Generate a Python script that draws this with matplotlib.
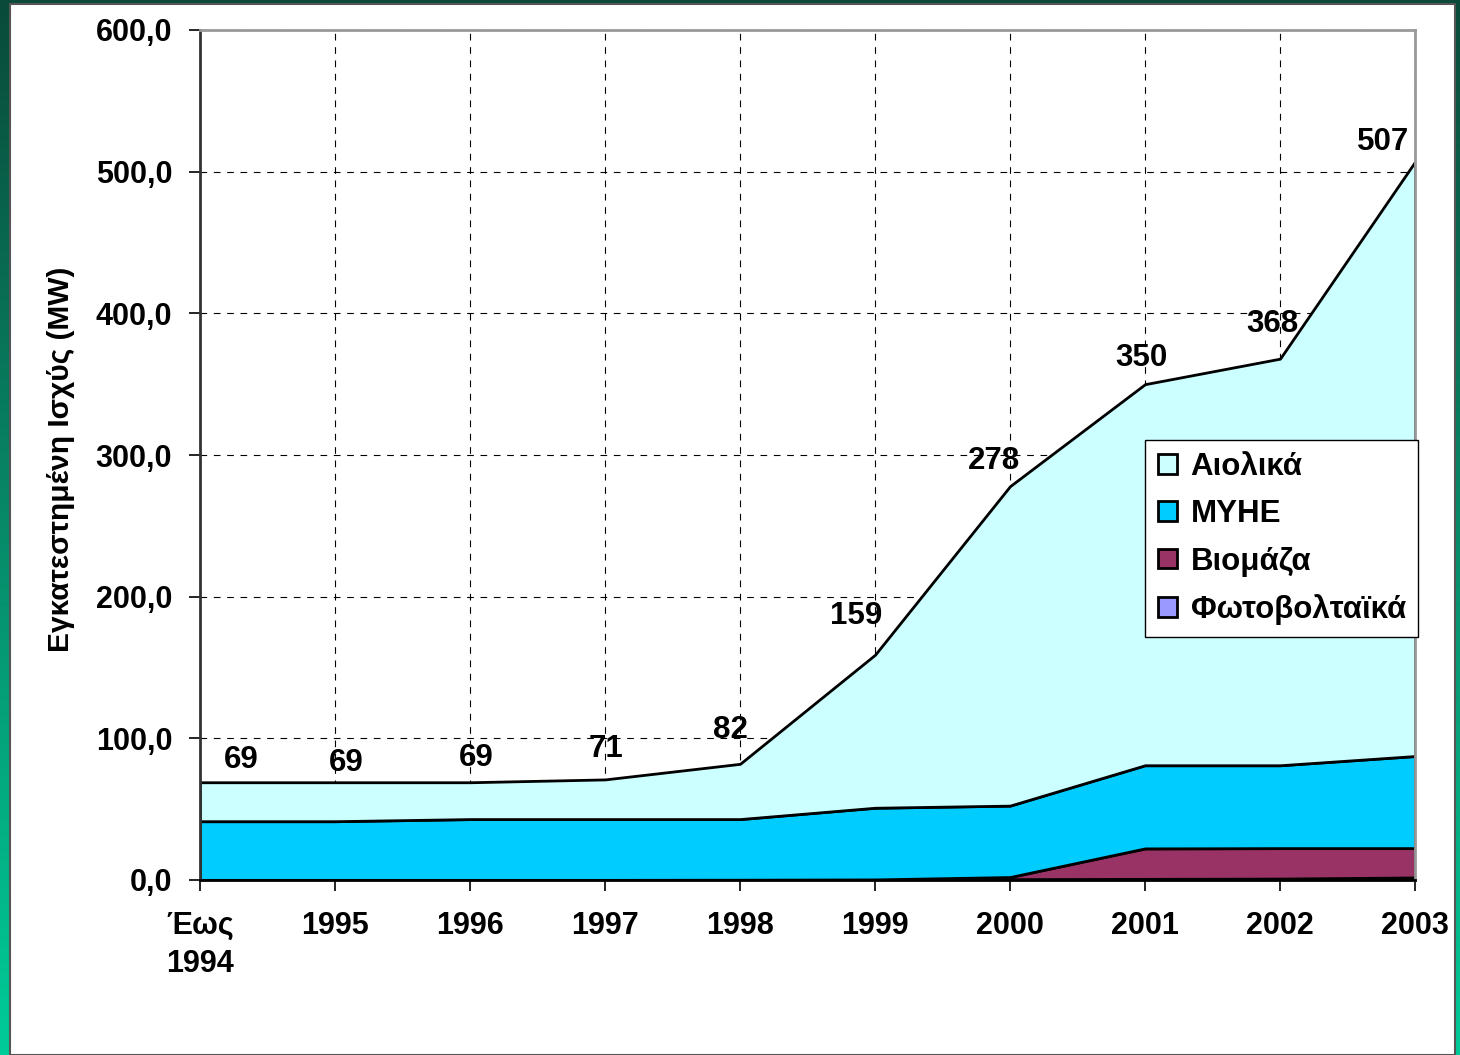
import numpy as np
import matplotlib
matplotlib.use("Agg")
import matplotlib.pyplot as plt
from matplotlib.patches import Rectangle

plt.rcParams['font.family'] = ['Liberation Sans', 'DejaVu Sans']
plt.rcParams['font.weight'] = 'bold'

# données (MW)
years = ["Έως\n1994", "1995", "1996", "1997", "1998", "1999", "2000", "2001", "2002", "2003"]
pv = [0.1, 0.1, 0.1, 0.1, 0.2, 0.4, 0.6, 0.8, 1.0, 1.8]
biomass = [0.0, 0.0, 0.0, 0.0, 0.0, 0.0, 1.5, 21.5, 21.5, 20.7]
myhe = [41.4, 41.4, 42.9, 42.9, 42.8, 50.6, 50.4, 58.7, 58.5, 65.0]
wind = [27.5, 27.5, 26.0, 28.0, 39.0, 108.0, 225.5, 269.0, 287.0, 419.5]
yticks = [0, 100, 200, 300, 400, 500, 600]

series_names = ["Φωτοβολταϊκά", "Βιομάζα", "ΜΥΗΕ", "Αιολικά"]
colors = ["#9999FF", "#993366", "#00CCFF", "#CCFFFF"]

# décalage des étiquettes (en pixels)
label_offsets = [(41, 22), (11, 19), (6, 24), (1, 30), (-10, 34),
                 (-19, 39), (-16, 25), (-4, 26), (-8, 35), (-32, 20)]

x = np.arange(len(years))
totals = np.array(pv) + np.array(biomass) + np.array(myhe) + np.array(wind)

fig = plt.figure(figsize=(14.6, 10.55), dpi=100)

# fond vert en dégradé + panneau blanc
bg = fig.add_axes([0, 0, 1, 1], zorder=-10)
grad = np.linspace(0, 1, 256).reshape(-1, 1)
cmap = matplotlib.colors.LinearSegmentedColormap.from_list("g", ["#0A4A3A", "#078A68", "#00CC99"])
bg.imshow(grad, aspect='auto', cmap=cmap, extent=[0, 1, 0, 1], origin='upper')
bg.add_patch(Rectangle((10 / 1460, 0), (1455 - 10) / 1460, 1 - 4 / 1055,
                       facecolor='white', edgecolor='#555555', linewidth=1.5))
bg.set_xlim(0, 1)
bg.set_ylim(0, 1)
bg.axis('off')

ax = fig.add_axes([200 / 1460, 1 - 880 / 1055, 1215 / 1460, 850 / 1055])
ax.set_facecolor('white')

polys = ax.stackplot(x, pv, biomass, myhe, wind, colors=colors,
                     edgecolor='black', linewidth=2, labels=series_names, zorder=3)

ax.set_xlim(0, len(years) - 1)
ax.set_ylim(0, 600)
ax.set_xticks(x)
ax.set_xticklabels(years, fontsize=22, fontweight='bold', va='top', linespacing=1.35)
ax.set_yticks(yticks)
ax.set_yticklabels([f"{v:.1f}".replace('.', ',') for v in yticks], fontsize=22, fontweight='bold')
ax.tick_params(axis='x', length=8, width=1.2, pad=14)
ax.tick_params(axis='y', length=8, width=1.2, pad=12)

ax.grid(True, color='black', linestyle=(0, (6, 6)), linewidth=0.8, zorder=1)
ax.set_axisbelow(True)
for side in ['top', 'right']:
    ax.spines[side].set_color('#999999')
    ax.spines[side].set_linewidth(2)
ax.spines['left'].set_color('#333333')
ax.spines['left'].set_linewidth(2)
ax.spines['bottom'].set_linewidth(2)
for sp in ax.spines.values():
    sp.set_zorder(4)

ax.set_ylabel("Εγκατεστημένη Ισχύς (MW)", fontsize=21.5, fontweight='bold')
ax.yaxis.set_label_coords(-0.1025, 0.495)

# étiquettes des totaux
for i, t in enumerate(totals):
    dx, dy = label_offsets[i]
    ax.annotate(f"{round(t):d}", (x[i], t), xytext=(dx * 0.72, dy * 0.72),
                textcoords='offset points', ha='center', va='center',
                fontsize=22.5, fontweight='bold', zorder=5, annotation_clip=False)

handles, labels = ax.get_legend_handles_labels()
leg = ax.legend(handles[::-1], labels[::-1], loc='upper left', bbox_to_anchor=(0.778, 0.518),
                prop={'size': 22.5, 'weight': 'bold'}, frameon=True, fancybox=False,
                framealpha=1, edgecolor='black', handlelength=0.6, handleheight=0.6,
                handletextpad=0.45, labelspacing=0.55, borderpad=0.4, borderaxespad=0)
leg.get_frame().set_linewidth(1.0)
leg.set_zorder(6)

fig.savefig("out.png", dpi=100)
